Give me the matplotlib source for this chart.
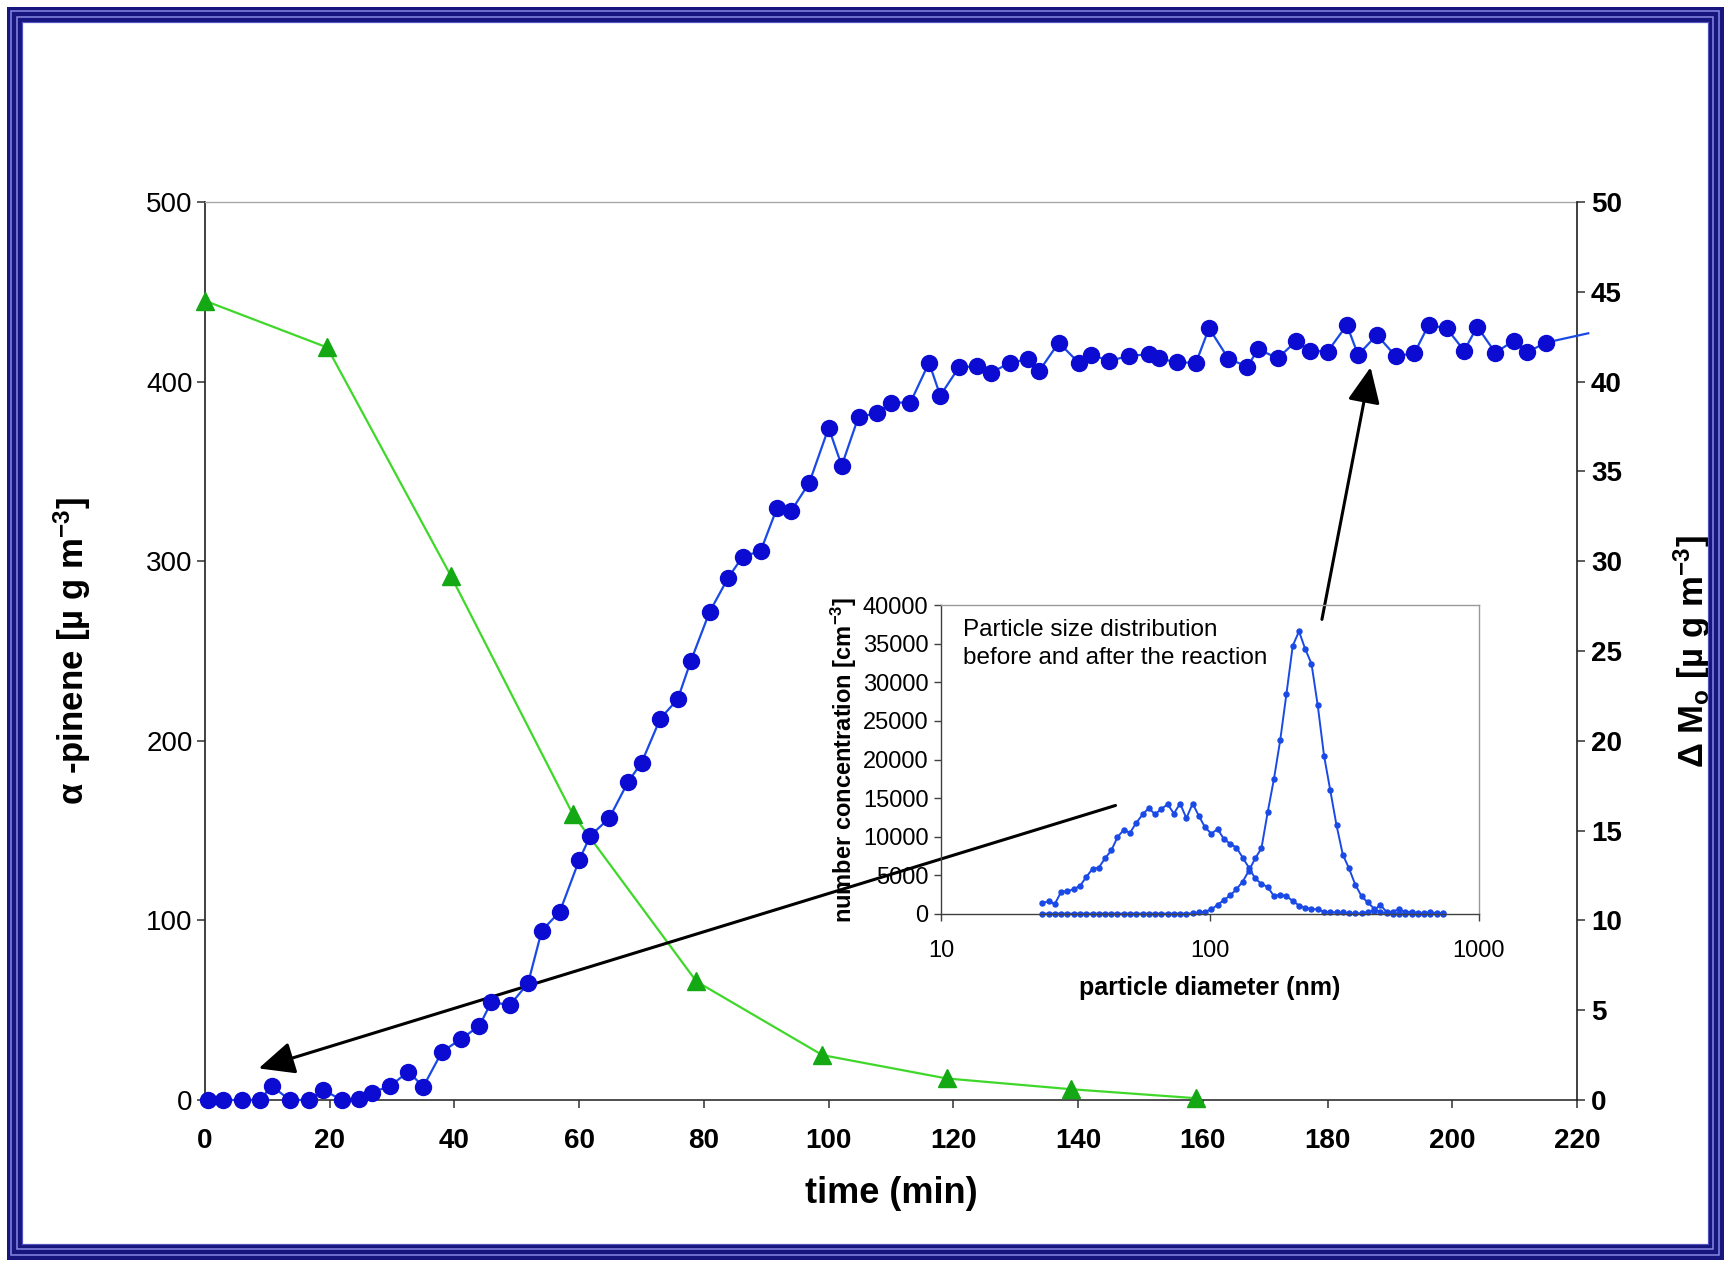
import matplotlib
matplotlib.use("Agg")
import matplotlib.pyplot as plt
from matplotlib.patches import Rectangle
from matplotlib.ticker import FixedLocator, FixedFormatter, NullLocator

plt.rcParams['font.family'] = ['Liberation Sans', 'DejaVu Sans']
plt.rcParams['mathtext.fontset'] = 'custom'
plt.rcParams['mathtext.rm'] = 'Liberation Sans'
plt.rcParams['mathtext.bf'] = 'Liberation Sans:bold'
plt.rcParams['mathtext.it'] = 'Liberation Sans:italic'

# ---------------- data ----------------
# alpha-pinene (left axis, ug m-3)
pinene_t = [0, 19.6, 39.4, 59.0, 78.8, 99.0, 118.9, 138.9, 158.9]
pinene_v = [445, 419, 292, 159, 66, 25, 12, 6, 1]

# Delta Mo (right axis, ug m-3); last point only continues the line past the axis
mass_t = [0.5, 2.9, 5.9, 8.8, 10.7, 13.6, 16.6, 19.0, 21.9, 24.7, 26.7, 29.7,
          32.6, 35.0, 38.0, 41.0, 44.0, 45.9, 48.9, 51.8, 54.0, 56.9, 60.0, 61.8,
          64.8, 67.8, 70.0, 73.0, 75.8, 77.9, 80.9, 83.9, 86.2, 89.1, 91.7, 94.0,
          96.9, 100.0, 102.1, 104.8, 107.8, 110.0, 113.1, 116.1, 117.9, 120.9,
          123.8, 126.0, 129.1, 131.9, 133.8, 136.9, 140.1, 142.1, 145.0, 148.1,
          151.3, 152.9, 155.8, 158.9, 161.0, 164.1, 167.1, 168.9, 172.0, 175.0,
          177.2, 180.0, 183.1, 184.9, 187.9, 190.9, 193.9, 196.2, 199.1, 201.9,
          204.0, 206.9, 209.9, 212.0, 215.0, 221.8]
mass_v = [0, 0, 0, 0, 0.78, 0, 0, 0.56, 0, 0.05, 0.41, 0.78,
          1.58, 0.74, 2.69, 3.38, 4.13, 5.45, 5.29, 6.5, 9.43, 10.49, 13.36, 14.72,
          15.68, 17.69, 18.78, 21.23, 22.32, 24.44, 27.17, 29.08, 30.25, 30.57, 32.94, 32.8,
          34.37, 37.43, 35.32, 38.05, 38.23, 38.83, 38.83, 41.05, 39.22, 40.8,
          40.85, 40.48, 41.06, 41.24, 40.61, 42.17, 41.05, 41.5, 41.15, 41.43,
          41.52, 41.3, 41.07, 41.05, 42.97, 41.28, 40.83, 41.8, 41.3, 42.26,
          41.72, 41.67, 43.15, 41.48, 42.6, 41.43, 41.57, 43.15, 42.97, 41.72,
          43.06, 41.61, 42.28, 41.63, 42.17, 42.69]

# inset: particle size distributions
diam_nm = [23.8, 25.1, 26.5, 28.0, 29.5, 31.1, 32.9, 34.7, 36.6, 38.6,
           40.7, 43.0, 45.3, 47.8, 50.4, 53.2, 56.2, 59.2, 62.5, 65.9,
           69.6, 73.4, 77.4, 81.7, 86.2, 90.9, 95.9, 101.2, 106.8, 112.6,
           118.8, 125.4, 132.3, 139.5, 147.2, 155.3, 163.9, 172.9, 182.4, 192.4,
           203.0, 214.2, 225.9, 238.4, 251.5, 265.4, 280.0, 295.3, 311.6, 328.7,
           346.8, 365.9, 386.0, 407.3, 429.7, 453.4, 478.3, 504.6, 532.4, 561.7,
           592.6, 625.2, 659.6, 695.9, 734.2]
conc_before = [1400, 1650, 1300, 2900, 2950, 3200, 3650, 4800, 5850, 6000,
               7200, 8250, 9950, 10900, 10500, 11800, 12900, 13700, 12900, 13600,
               14200, 13000, 14300, 12400, 14300, 12700, 11200, 10400, 11000, 9700,
               9100, 8600, 7300, 6000, 4600, 3900, 3500, 2300, 2500, 2300,
               1700, 1100, 800, 650, 600, 300, 250, 200, 200, 100,
               80, 100, 250, 450, 1200, 250, 300, 650, 250, 300,
               100, 100, 250, 100, 150]
conc_after = [50, 50, 50, 50, 50, 50, 50, 50, 50, 50,
              50, 50, 50, 50, 50, 50, 50, 50, 50, 50,
              50, 50, 50, 50, 80, 200, 300, 600, 1200, 1800,
              2400, 3200, 4200, 5600, 7200, 8500, 13200, 17500, 22500, 28500,
              34700, 36600, 34300, 32400, 27000, 20500, 16000, 11500, 7700, 5900,
              3800, 2300, 1500, 700, 250, 100, 50, 50, 50, 50,
              50, 50, 50, 50, 50]

# ---------------- figure ----------------
W, H = 1729, 1265
fig = plt.figure(figsize=(W / 100, H / 100), dpi=100)
fig.patch.set_facecolor('white')

def fx(px):
    return px / W

def fy(py):
    return 1 - py / H

ax = fig.add_axes([fx(205), fy(1100), (1577 - 205) / W, (1100 - 202) / H])
ax2 = ax.twinx()

green_line = '#3fd82a'
green_mark = '#14a814'
blue_mark = '#0b0bd2'
blue_line = '#1a4ae6'

ax.plot(pinene_t, pinene_v, '-', color=green_line, lw=1.6, zorder=3, clip_on=False)
ax.plot(pinene_t, pinene_v, '^', color=green_mark, ms=13, mec=green_mark, zorder=4,
        clip_on=False, ls='none')

ax2.plot(mass_t, mass_v, '-', color=blue_line, lw=1.6, zorder=3, clip_on=False)
ax2.plot(mass_t[:-1], mass_v[:-1], 'o', color=blue_mark, ms=11.5, mec=blue_mark,
         zorder=4, clip_on=False, ls='none')

ax.set_xlim(0, 220)
ax.set_ylim(0, 500)
ax2.set_ylim(0, 50)
ax.set_xticks(range(0, 221, 20))
ax.set_yticks(range(0, 501, 100))
ax2.set_yticks(range(0, 51, 5))

for a in (ax, ax2):
    a.patch.set_visible(False)
    for s in a.spines.values():
        s.set_visible(False)

ax.spines['left'].set_visible(True)
ax.spines['left'].set_color('#202020')
ax.spines['left'].set_linewidth(1.2)
ax.spines['bottom'].set_visible(True)
ax.spines['bottom'].set_color('#303030')
ax.spines['bottom'].set_linewidth(1.2)
ax.spines['top'].set_visible(True)
ax.spines['top'].set_color('#a8a8a8')
ax.spines['top'].set_linewidth(1.0)
ax2.spines['right'].set_visible(True)
ax2.spines['right'].set_color('#202020')
ax2.spines['right'].set_linewidth(1.2)

ax.tick_params(axis='both', direction='out', length=6, width=1.1, color='#303030',
               labelsize=20, pad=3)
ax.tick_params(axis='x', pad=14)
ax2.tick_params(axis='y', direction='out', length=6, width=1.1, color='#303030',
                labelsize=20, pad=4)
for lab in ax2.get_yticklabels() + ax.get_xticklabels():
    lab.set_fontweight('bold')

ax.set_xlabel('time (min)', fontsize=26, fontweight='bold', labelpad=16)
ax.set_ylabel(r'α -pinene [µ g m$^{\mathbf{-3}}$]', fontsize=25, fontweight='bold',
              labelpad=38)
ax2.set_ylabel(r'Δ M$_{\mathbf{o}}$ [µ g m$^{\mathbf{-3}}$]', fontsize=25,
               fontweight='bold', rotation=90, labelpad=36)

# ---------------- inset ----------------
axi = fig.add_axes([fx(941), fy(914), (1479 - 941) / W, (914 - 605) / H])
axi.patch.set_visible(False)
axi.set_xscale('log')
axi.plot(diam_nm, conc_before, '-o', color=blue_line, mfc=blue_line, mec=blue_line,
         ms=3.6, lw=1.4, clip_on=False)
axi.plot(diam_nm, conc_after, '-o', color=blue_line, mfc=blue_line, mec=blue_line,
         ms=3.6, lw=1.4, clip_on=False)
axi.set_xlim(10, 1000)
axi.set_ylim(0, 40000)
axi.xaxis.set_major_locator(FixedLocator([10, 100, 1000]))
axi.xaxis.set_major_formatter(FixedFormatter(['10', '100', '1000']))
axi.xaxis.set_minor_locator(NullLocator())
axi.set_yticks(range(0, 40001, 5000))
axi.tick_params(axis='both', direction='out', length=5, width=1, color='#404040',
                labelsize=17, pad=4)
axi.tick_params(axis='x', pad=14)
for side in ('top', 'right'):
    axi.spines[side].set_color('#9a9a9a')
    axi.spines[side].set_linewidth(1.0)
for side in ('left', 'bottom'):
    axi.spines[side].set_color('#404040')
    axi.spines[side].set_linewidth(1.0)
axi.set_xlabel('particle diameter (nm)', fontsize=18, fontweight='bold', labelpad=10)
axi.set_ylabel(r'number concentration [cm$^{\mathbf{-3}}$]', fontsize=17,
               fontweight='bold', labelpad=3)
axi.text(0.04, 0.955, 'Particle size distribution\nbefore and after the reaction',
         transform=axi.transAxes, fontsize=17.5, va='top', ha='left',
         linespacing=1.35)

# ---------------- arrows ----------------
arrow_kw = dict(arrowstyle='-|>,head_length=1.1,head_width=0.5', color='black',
                lw=2.2, mutation_scale=20, shrinkA=0, shrinkB=0)
ax.annotate('', xy=(8.6, 17.6), xytext=(146.0, 164.0), arrowprops=arrow_kw,
            annotation_clip=False, zorder=10)
ax.annotate('', xy=(186.9, 408.0), xytext=(179.1, 267.6), arrowprops=arrow_kw,
            annotation_clip=False, zorder=10)

# ---------------- blue double frame ----------------
def frame(p, lw_px, color):
    fig.add_artist(Rectangle((fx(p), p / H), 1 - 2 * p / W, 1 - 2 * p / H,
                             transform=fig.transFigure, fill=False,
                             lw=lw_px * 0.72, ec=color, zorder=50))

frame(13.5, 15, '#16167e')
frame(10.5, 1.5, '#8a8ae6')
frame(16.5, 1.5, '#8a8ae6')
frame(21.5, 1.2, '#5050c0')

fig.savefig('out.png', dpi=100, facecolor='white')
